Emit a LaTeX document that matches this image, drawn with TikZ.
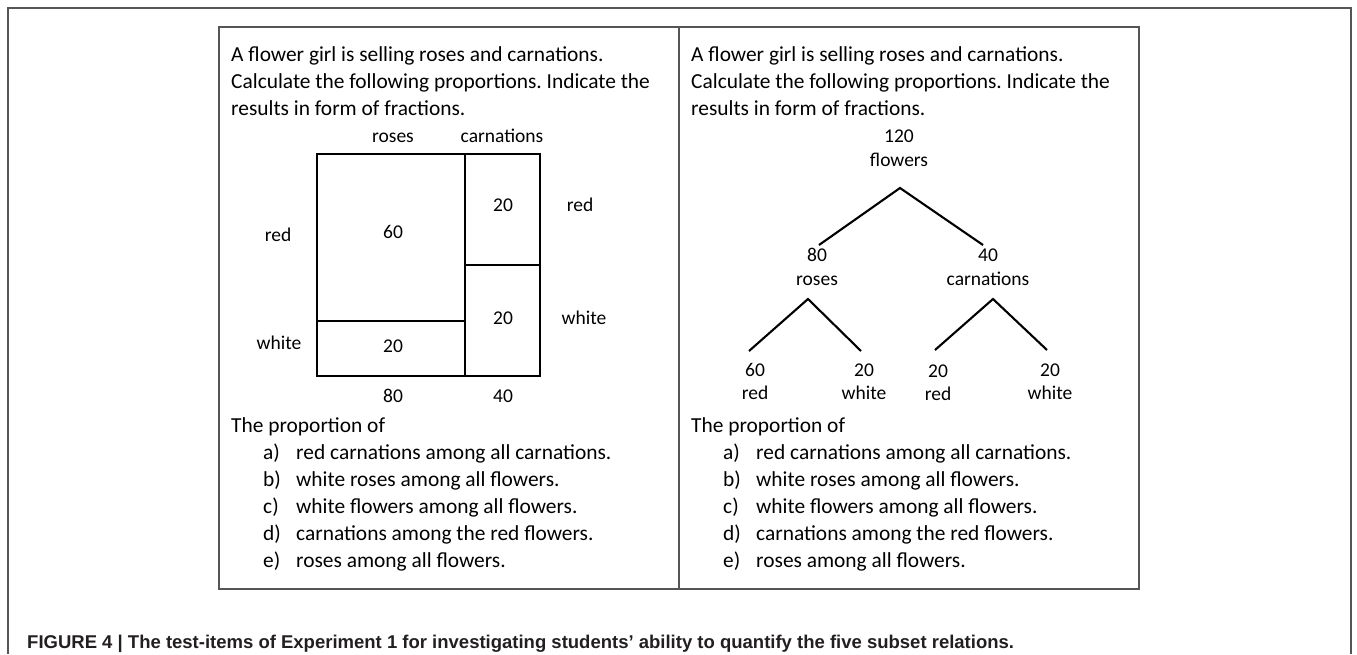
\documentclass[tikz,border=0pt]{standalone}
\usepackage{fontspec}
\setmainfont{Carlito}
\newfontfamily\capfont{Liberation Sans}
\usetikzlibrary{positioning}
\definecolor{framegray}{HTML}{555555}
\definecolor{capgray}{HTML}{231F20}
\frenchspacing

\begin{document}
\begin{tikzpicture}[x=1pt, y=-1pt,
    txt/.style={font=\fontsize{21.4}{27}\selectfont, anchor=base west, inner sep=0pt},
    lbl/.style={font=\fontsize{19.5}{24}\selectfont, inner sep=0pt,
                text height=13.5pt, text depth=2.5pt},
    frame/.style={draw=framegray, line width=1.4pt},
    bar/.style={draw=black, line width=2.7pt, line cap=rect},
    branch/.style={draw=black, line width=2.1pt},
]
    \useasboundingbox (0,0) rectangle (1357,654);

    % === frames ===
    \draw[frame] (8,654) -- (8,8) -- (1351,8) -- (1351,654);
    \draw[frame] (219,27) rectangle (1139,589);
    \draw[frame] (679,27) -- (679,589);

    % === task text, both panels ===
    \foreach \p/\x in {L/231, R/691} {
        \node[txt] (\p-h1) at (\x, 61) {A flower girl is selling roses and carnations.};
        \node[txt] (\p-h2) at (\x, 88) {Calculate the following proportions. Indicate the};
        \node[txt] (\p-h3) at (\x, 115) {results in form of fractions.};
        \node[txt] (\p-q0) at (\x, 432) {The proportion of};
        \node[txt] (\p-qa) at (\x+32, 459) {\makebox[33pt][l]{a)}red carnations among all carnations.};
        \node[txt] (\p-qb) at (\x+32, 486) {\makebox[33pt][l]{b)}white roses among all flowers.};
        \node[txt] (\p-qc) at (\x+32, 513) {\makebox[33pt][l]{c)}white flowers among all flowers.};
        \node[txt] (\p-qd) at (\x+32, 540) {\makebox[33pt][l]{d)}carnations among the red flowers.};
        \node[txt] (\p-qe) at (\x+32, 567) {\makebox[33pt][l]{e)}roses among all flowers.};
    }

    % === mosaic (left) ===
    \draw[bar] (317,154) rectangle (540,376);
    \draw[bar] (465,154) -- (465,376);
    \draw[bar] (317,321) -- (465,321);
    \draw[bar] (465,265) -- (540,265);

    \node[lbl] (mRoses) at (393, 137) {roses};
    \node[lbl] (mCarn) at (502, 137) {carnations};
    \node[lbl] (mRed) at (278, 236) {red};
    \node[lbl] (mWhite) at (279, 344) {white};
    \node[lbl] (mRedC) at (580, 206) {red};
    \node[lbl] (mWhiteC) at (584, 319) {white};
    \node[lbl] (mRR) at (393, 233) {60};
    \node[lbl] (mRW) at (393, 347) {20};
    \node[lbl] (mCR) at (503, 206) {20};
    \node[lbl] (mCW) at (503, 319) {20};
    \node[lbl] (mRoseTot) at (393, 397) {80};
    \node[lbl] (mCarnTot) at (503, 397) {40};

    % === tree (right) ===
    \node[lbl] (tTotN) at (899, 137) {120};
    \node[lbl] (tTot) at (899, 161) {flowers};
    \node[lbl] (tRoseN) at (817, 256) {80};
    \node[lbl] (tRose) at (817, 280) {roses};
    \node[lbl] (tCarnN) at (988, 256) {40};
    \node[lbl] (tCarn) at (988, 280) {carnations};
    \node[lbl] (tRRN) at (755, 371) {60};
    \node[lbl] (tRR) at (755, 394) {red};
    \node[lbl] (tRWN) at (864, 371) {20};
    \node[lbl] (tRW) at (864, 394) {white};
    \node[lbl] (tCRN) at (938, 372) {20};
    \node[lbl] (tCR) at (938, 395) {red};
    \node[lbl] (tCWN) at (1050, 371) {20};
    \node[lbl] (tCW) at (1050, 394) {white};

    \coordinate (a0) at (900,188);
    \coordinate (a0l) at (819,245);
    \coordinate (a0r) at (983,245);
    \coordinate (a1) at (808,299);
    \coordinate (a1l) at (749,351);
    \coordinate (a1r) at (861,351);
    \coordinate (a2) at (993,299);
    \coordinate (a2l) at (935,350);
    \coordinate (a2r) at (1047,350);
    \draw[branch] (a0l) -- (a0) -- (a0r);
    \draw[branch] (a1l) -- (a1) -- (a1r);
    \draw[branch] (a2l) -- (a2) -- (a2r);

    % === caption ===
    \node[anchor=base west, inner sep=0pt, text=capgray,
          font=\capfont\bfseries\fontsize{18.5}{20}\selectfont] (caption) at (27, 648)
        {FIGURE 4 | The test-items of Experiment 1 for investigating students’ ability to quantify the five subset relations.};
\end{tikzpicture}
\end{document}
